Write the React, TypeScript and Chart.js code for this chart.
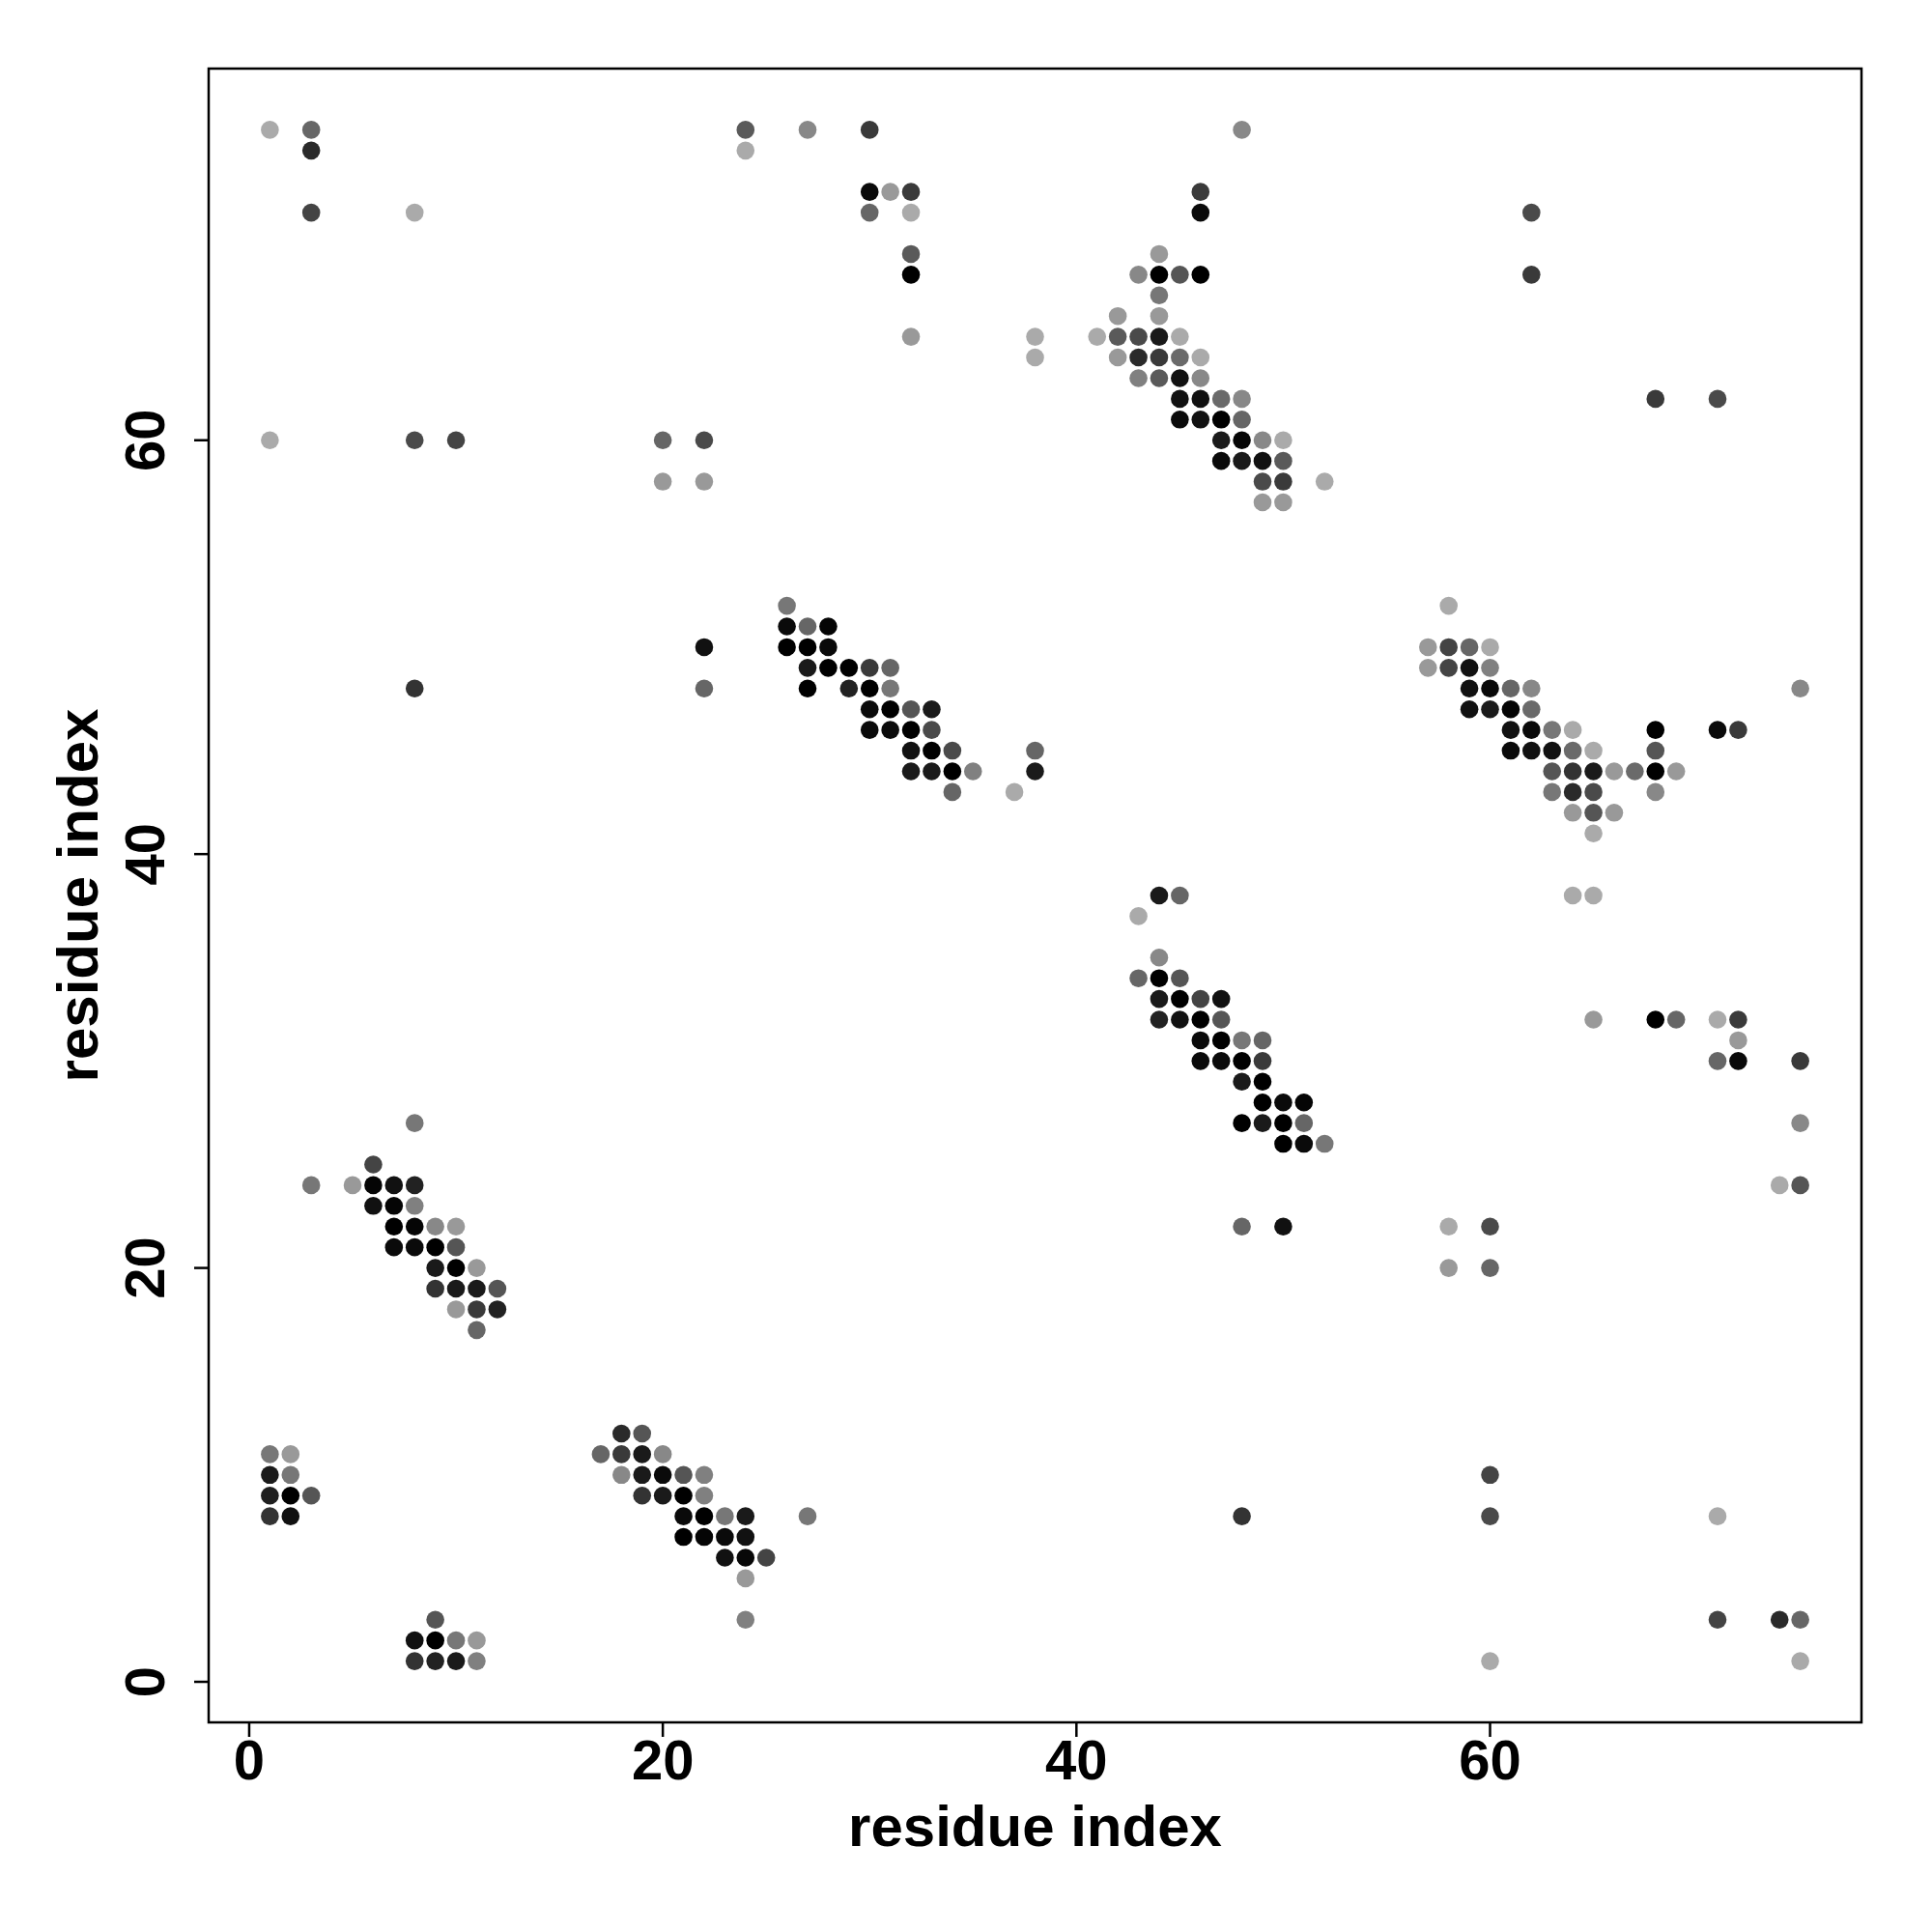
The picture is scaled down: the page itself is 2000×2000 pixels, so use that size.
import React, { useEffect, useRef } from "react";
import { Chart, registerables } from "chart.js";

Chart.register(...registerables);

// contact map: residue i (x), residue j (y), gray level of the dot (0 = black)
const XS = [
  1, 2, 1, 2, 1, 2, 3, 1, 2,
  9, 8, 9, 10, 11, 8, 9, 10, 11,
  18, 19, 17, 18, 19, 20, 18, 19, 20, 21, 22, 19, 20, 21, 22,
  21, 22, 23, 24, 27, 21, 22, 23, 24, 23, 24, 25, 24, 24,
  8, 6, 3, 5, 6, 7, 8, 6, 7, 8, 7, 8, 9, 10, 7, 8, 9, 10,
  9, 10, 11, 9, 10, 11, 12, 10, 11, 12, 11,
  44, 45, 43, 44, 43, 44, 45, 44, 45, 46, 47, 44, 45, 46, 47,
  46, 47, 48, 49, 46, 47, 48, 49, 48, 49, 49, 50, 51,
  48, 49, 50, 51, 50, 51, 52, 48, 50,
  60, 48, 60, 71, 71, 74, 75, 60, 75,
  65, 68, 69, 71, 72, 72, 71, 72, 75, 75, 74, 75, 58, 60, 58, 60,
  58, 57, 58, 59, 60, 57, 58, 59, 60, 59, 60, 61, 62, 75,
  59, 60, 61, 62, 61, 62, 63, 64, 68, 71, 72,
  61, 62, 63, 64, 65, 68, 63, 64, 65, 66, 67, 68, 69,
  63, 64, 65, 68, 64, 65, 66, 65, 64, 65,
  26, 26, 27, 28, 22, 26, 27, 28, 27, 28, 29, 30, 31,
  22, 27, 29, 30, 31, 30, 31, 32, 33, 30, 31, 32, 33,
  32, 33, 34, 38, 32, 33, 34, 35, 38, 34, 37,
  48, 46, 46, 44, 43, 44, 45, 46, 44, 42, 44,
  41, 42, 43, 44, 45, 42, 43, 44, 45, 46, 43, 44, 45, 46,
  45, 46, 47, 48, 45, 46, 47, 48, 47, 48, 49, 50,
  47, 48, 49, 50, 49, 50, 52, 49, 50,
  1, 3, 3, 3, 8, 1, 8, 10, 8,
  24, 27, 30, 24, 30, 31, 32, 30, 32, 32, 32, 32, 38, 38, 20, 22, 20, 22,
  62, 62, 68, 71,
];

const YS = [
  11, 11, 10, 10, 9, 9, 9, 8, 8,
  3, 2, 2, 2, 2, 1, 1, 1, 1,
  12, 12, 11, 11, 11, 11, 10, 10, 10, 10, 10, 9, 9, 9, 9,
  8, 8, 8, 8, 8, 7, 7, 7, 7, 6, 6, 6, 5, 3,
  27, 25, 24, 24, 24, 24, 24, 23, 23, 23, 22, 22, 22, 22, 21, 21, 21, 21,
  20, 20, 20, 19, 19, 19, 19, 18, 18, 18, 17,
  38, 38, 37, 35, 34, 34, 34, 33, 33, 33, 33, 32, 32, 32, 32,
  31, 31, 31, 31, 30, 30, 30, 30, 29, 29, 28, 28, 28,
  27, 27, 27, 27, 26, 26, 26, 22, 22,
  10, 8, 8, 8, 3, 3, 3, 1, 1,
  32, 32, 32, 32, 32, 31, 30, 30, 30, 27, 24, 24, 22, 22, 20, 20,
  52, 50, 50, 50, 50, 49, 49, 49, 49, 48, 48, 48, 48, 48,
  47, 47, 47, 47, 46, 46, 46, 46, 46, 46, 46,
  45, 45, 45, 45, 45, 45, 44, 44, 44, 44, 44, 44, 44,
  43, 43, 43, 43, 42, 42, 42, 41, 38, 38,
  52, 51, 51, 51, 50, 50, 50, 50, 49, 49, 49, 49, 49,
  48, 48, 48, 48, 48, 47, 47, 47, 47, 46, 46, 46, 46,
  45, 45, 45, 45, 44, 44, 44, 44, 44, 43, 43,
  75, 72, 71, 69, 68, 68, 68, 68, 67, 66, 66,
  65, 65, 65, 65, 65, 64, 64, 64, 64, 64, 63, 63, 63, 63,
  62, 62, 62, 62, 61, 61, 61, 61, 60, 60, 60, 60,
  59, 59, 59, 59, 58, 58, 58, 57, 57,
  75, 75, 74, 71, 71, 60, 60, 60, 48,
  75, 75, 75, 74, 72, 72, 72, 71, 71, 69, 68, 65, 65, 64, 60, 60, 58, 58,
  71, 68, 62, 62,
];

const GRAY = [
  119, 153, 26, 119, 31, 0, 85, 51, 17,
  85, 17, 0, 119, 153, 51, 34, 26, 128,
  42, 85, 102, 58, 26, 136, 136, 26, 10, 85, 128, 51, 26, 0, 128,
  10, 0, 119, 26, 119, 0, 5, 10, 17, 17, 8, 68, 153, 128,
  119, 68, 119, 153, 5, 17, 34, 17, 5, 128, 0, 5, 136, 153, 10, 10, 0, 85,
  26, 0, 153, 51, 26, 26, 85, 153, 58, 34, 102,
  26, 102, 170, 136, 102, 0, 85, 26, 0, 68, 17, 34, 17, 0, 85,
  10, 0, 119, 102, 10, 10, 0, 58, 26, 0, 0, 10, 5,
  0, 26, 0, 102, 0, 10, 119, 102, 17,
  68, 51, 74, 170, 68, 42, 102, 170, 170,
  153, 0, 102, 170, 58, 153, 102, 10, 58, 136, 170, 85, 170, 74, 153, 102,
  170, 153, 68, 102, 170, 153, 68, 17, 128, 17, 8, 102, 136, 136,
  17, 26, 5, 106, 17, 10, 119, 170, 0, 10, 58,
  10, 17, 17, 106, 170, 85, 85, 51, 26, 153, 106, 0, 153,
  119, 42, 74, 136, 153, 85, 153, 170, 170, 170,
  119, 10, 102, 5, 17, 0, 0, 10, 26, 0, 0, 58, 102,
  102, 0, 34, 0, 119, 10, 0, 85, 26, 10, 10, 0, 74,
  17, 0, 74, 102, 26, 26, 0, 128, 26, 102, 170,
  136, 58, 10, 153, 136, 0, 85, 0, 119, 153, 153,
  170, 90, 74, 26, 170, 153, 42, 58, 106, 170, 128, 90, 17, 136,
  17, 17, 106, 136, 10, 17, 0, 102, 26, 5, 136, 170,
  10, 26, 17, 90, 74, 58, 170, 153, 153,
  170, 102, 42, 68, 170, 170, 74, 68, 51,
  90, 136, 58, 170, 10, 153, 58, 102, 170, 90, 0, 153, 170, 170, 102, 74, 153, 153,
  74, 58, 58, 74,
];

const X_TICKS = [0, 20, 40, 60];
const Y_TICKS = [0, 20, 40, 60];
const X_TITLE = "residue index";
const Y_TITLE = "residue index";
const AXIS_MIN = -1.96;
const AXIS_MAX = 77.96;

const FONT = "Liberation Sans, Arial, Helvetica, sans-serif";

const axesPlugin = {
  id: "baseAxes",
  beforeDraw(chart: any) {
    const ctx = chart.ctx;
    ctx.save();
    ctx.fillStyle = "#ffffff";
    ctx.fillRect(0, 0, chart.width, chart.height);
    ctx.restore();
  },
  afterDraw(chart: any) {
    const ctx = chart.ctx;
    const { left, right, top, bottom } = chart.chartArea;
    const xs = chart.scales.x;
    const ys = chart.scales.y;
    ctx.save();
    ctx.strokeStyle = "#000";
    ctx.lineWidth = 2.5;
    ctx.strokeRect(left, top, right - left, bottom - top);

    const tickLen = 15;
    const tickSize = 58;
    ctx.fillStyle = "#000";
    ctx.font = `bold ${tickSize}px ${FONT}`;
    ctx.textAlign = "center";
    ctx.textBaseline = "alphabetic";
    X_TICKS.forEach((v) => {
      const px = xs.getPixelForValue(v);
      ctx.beginPath();
      ctx.moveTo(px, bottom);
      ctx.lineTo(px, bottom + tickLen);
      ctx.stroke();
      ctx.fillText(String(v), px, 1821 + 0.358 * tickSize);
    });
    Y_TICKS.forEach((v) => {
      const py = ys.getPixelForValue(v);
      ctx.beginPath();
      ctx.moveTo(left, py);
      ctx.lineTo(left - tickLen, py);
      ctx.stroke();
      ctx.save();
      ctx.translate(149 + 0.358 * tickSize, py);
      ctx.rotate(-Math.PI / 2);
      ctx.fillText(String(v), 0, 0);
      ctx.restore();
    });

    const titleSize = 60;
    ctx.font = `bold ${titleSize}px ${FONT}`;
    ctx.fillText(X_TITLE, (left + right) / 2, 1911);
    ctx.save();
    ctx.translate(101, (top + bottom) / 2);
    ctx.rotate(-Math.PI / 2);
    ctx.fillText(Y_TITLE, 0, 0);
    ctx.restore();
    ctx.restore();
  },
};

export default function App() {
  const ref = useRef<HTMLCanvasElement | null>(null);
  useEffect(() => {
    if (!ref.current) return;
    const points = XS.map((x, i) => ({ x, y: YS[i] }));
    const colors = GRAY.map((g) => `rgb(${g},${g},${g})`);
    const chart = new Chart(ref.current, {
      type: "scatter",
      data: {
        datasets: [
          {
            data: points,
            pointBackgroundColor: colors,
            pointBorderWidth: 0,
            pointBorderColor: colors,
            pointRadius: 9.3,
            pointHoverRadius: 9.3,
          },
        ],
      },
      options: {
        animation: false,
        responsive: false,
        devicePixelRatio: 1,
        layout: { padding: { left: 216, top: 71, right: 73, bottom: 217 } },
        plugins: { legend: { display: false }, tooltip: { enabled: false } },
        scales: {
          x: { type: "linear", min: AXIS_MIN, max: AXIS_MAX, display: false },
          y: { type: "linear", min: AXIS_MIN, max: AXIS_MAX, display: false },
        },
      },
      plugins: [axesPlugin],
    });
    return () => chart.destroy();
  }, []);
  return (
    <div style={{ position: "absolute", left: 0, top: 0, width: 2000, height: 2000, background: "#fff" }}>
      <canvas ref={ref} width={2000} height={2000} />
    </div>
  );
}
